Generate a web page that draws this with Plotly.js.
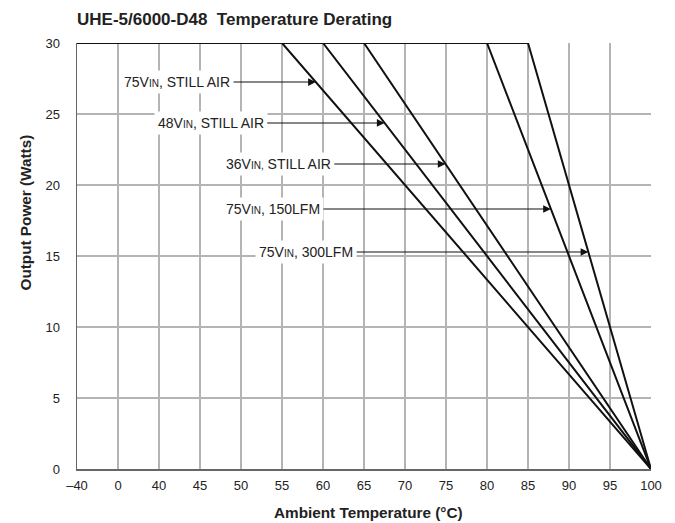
<!DOCTYPE html>
<html>
<head>
<meta charset="utf-8">
<script src="https://cdn.plot.ly/plotly-3.0.1.min.js"></script>
<style>html,body{margin:0;padding:0;background:#fff;}#chart{width:675px;height:523px;}</style>
</head>
<body>
<div id="chart"></div>
<script>
// Data
const tempCategories = ["\u201340","0","40","45","50","55","60","65","70","75","80","85","90","95","100"];
const seriesNames = ["75VIN, STILL AIR","48VIN, STILL AIR","36VIN, STILL AIR","75VIN, 150LFM","75VIN, 300LFM"];
const seriesLabels = ["75V<span style='font-size:10px'>IN</span>, STILL AIR","48V<span style='font-size:10px'>IN</span>, STILL AIR","36V<span style='font-size:10px'>IN,</span> STILL AIR","75V<span style='font-size:10px'>IN</span>, 150LFM","75V<span style='font-size:10px'>IN</span>, 300LFM"];
const deratingStart = ["55","60","65","80","85"];   // full power up to this temperature
const fullPower = 30;                                // Watts
const zeroPowerTemp = "100";
const minTemp = "\u201340";
const arrowPower = [27.25, 24.37, 21.48, 18.31, 15.28];  // Watts where each label's arrow points

const FONT = 'Liberation Sans, Arial, Helvetica, sans-serif';
const idx = t => tempCategories.indexOf(t);

const traces = deratingStart.map((s, i) => ({
  x: [minTemp, s, zeroPowerTemp],
  y: [fullPower, fullPower, 0],
  type: 'scatter', mode: 'lines', name: seriesNames[i],
  line: {color: '#111', width: 2},
  showlegend: false, hoverinfo: 'skip'
}));

const labelCenters = [2.44, 3.26, 4.91, 4.78, 5.59];
const annotations = deratingStart.map((s, i) => {
  const i0 = idx(s), i1 = idx(zeroPowerTemp);
  const xi = i0 + (fullPower - arrowPower[i]) / fullPower * (i1 - i0);
  return {
    x: xi, y: arrowPower[i], xref: 'x', yref: 'y',
    ax: labelCenters[i], ay: arrowPower[i], axref: 'x', ayref: 'y',
    text: seriesLabels[i], showarrow: true,
    arrowhead: 2, arrowsize: 1.4, arrowwidth: 1.1, arrowcolor: '#111',
    bgcolor: '#fff', borderpad: 3,
    font: {family: FONT, size: 14, color: '#222'}
  };
});

// axis titles as annotations for exact placement
annotations.push({
  text: '<b>Ambient Temperature (\u00B0C)</b>', showarrow: false,
  xref: 'paper', yref: 'paper', x: (368 - 77) / 574, y: -(512 - 469) / 426,
  xanchor: 'center', yanchor: 'middle',
  font: {family: FONT, size: 15.3, color: '#222'}
});
annotations.push({
  text: '<b>Output Power (Watts)</b>', showarrow: false, textangle: -90,
  xref: 'paper', yref: 'paper', x: (24.5 - 77) / 574, y: (469 - 213) / 426,
  xanchor: 'center', yanchor: 'middle',
  font: {family: FONT, size: 15.3, color: '#222'}
});

const layout = {
  width: 675, height: 523,
  margin: {l: 77, r: 24, t: 43, b: 54},
  paper_bgcolor: '#fff', plot_bgcolor: '#fff',
  showlegend: false,
  title: {
    text: '<b>UHE-5/6000-D48  Temperature Derating</b>',
    x: 77/675, xref: 'container', xanchor: 'left',
    y: 1 - 19/523, yref: 'container', yanchor: 'middle',
    font: {family: FONT, size: 17, color: '#222'}
  },
  xaxis: {
    type: 'category', categoryorder: 'array', categoryarray: tempCategories,
    range: [0, 14],
    showgrid: true, gridcolor: '#b4b4b4', gridwidth: 1.5,
    showline: true, linecolor: '#666', linewidth: 1.5,
    ticks: '', zeroline: false, ticklabelstandoff: 4,
    tickfont: {family: FONT, size: 13, color: '#222'}
  },
  yaxis: {
    range: [0, 30], dtick: 5, tick0: 0,
    showgrid: true, gridcolor: '#b4b4b4', gridwidth: 1.5,
    showline: true, linecolor: '#666', linewidth: 1.5,
    ticks: '', zeroline: false, ticklabelstandoff: 13,
    tickfont: {family: FONT, size: 13, color: '#222'}
  },
  annotations: annotations
};

Plotly.newPlot('chart', traces, layout, {displayModeBar: false, staticPlot: true});
</script>
</body>
</html>
